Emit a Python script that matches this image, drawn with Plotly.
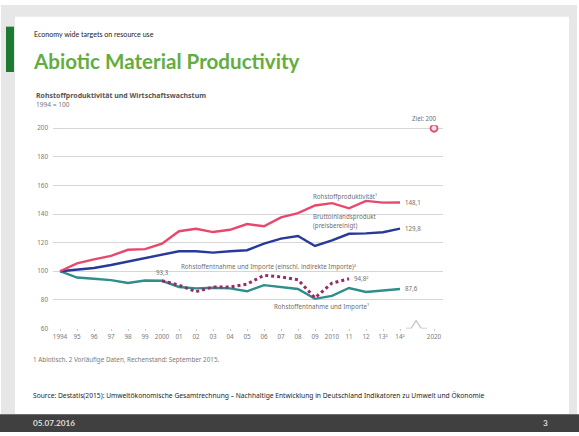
import plotly.graph_objects as go

W, H = 579, 436

# Year labels along the x axis (13 and 14 are provisional figures)
years = ["1994", "95", "96", "97", "98", "99", "2000", "01", "02", "03", "04",
         "05", "06", "07", "08", "09", "2010", "11", "12", "13²", "14²"]
target_label = "2020"

# Indices, 1994 = 100
rohstoffproduktivitaet = [100, 105.5, 108.3, 110.8, 115, 115.5, 119.3, 128, 129.7, 127.4, 129,
                          133, 131.5, 137.7, 140.7, 146, 147.6, 144, 149.2, 148, 148.1]
bip_preisbereinigt = [100, 101.4, 102.3, 104.4, 106.7, 109, 111.7, 114, 114, 113, 114,
                      114.7, 119.3, 122.8, 124.6, 117.7, 121.6, 126.2, 126.5, 127.3, 129.8]
entnahme_importe = [100, 95.6, 94.8, 93.8, 91.8, 93.5, 93.3, 89, 88, 88.5, 88,
                    86, 90.3, 89, 87.6, 80.7, 82.8, 88.3, 85.5, 86.5, 87.6]
# Including indirect imports, available from 2000 to 2011
indirekt_start = 6
entnahme_importe_indirekt = [93.3, 90.3, 85.7, 89, 89, 91, 97.2, 96, 94, 81.4, 91.7, 94.8]
ziel_2020 = 200

x = list(range(len(years)))
x_target = len(years) + 1          # 2020 sits after an axis break
x_ind = x[indirekt_start:indirekt_start + len(entnahme_importe_indirekt)]

RED = "#e8486c"
BLUE = "#28399a"
TEAL = "#2f8e8c"
MAROON = "#9a2a62"
GRID = "#d6d6d6"
LABEL = "#6f6f6f"

def fx(px):
    return px / W

def fy(py):
    return 1 - py / H

fig = go.Figure()

fig.add_trace(go.Scatter(x=x, y=entnahme_importe, mode="lines",
                         line=dict(color=TEAL, width=2.4), hoverinfo="skip"))
fig.add_trace(go.Scatter(x=x_ind, y=entnahme_importe_indirekt, mode="lines",
                         line=dict(color=MAROON, width=3, dash="dot"), hoverinfo="skip"))
fig.add_trace(go.Scatter(x=x, y=bip_preisbereinigt, mode="lines",
                         line=dict(color=BLUE, width=2.4), hoverinfo="skip"))
fig.add_trace(go.Scatter(x=x, y=rohstoffproduktivitaet, mode="lines",
                         line=dict(color=RED, width=2.4), hoverinfo="skip"))
fig.add_trace(go.Scatter(x=[x_target], y=[ziel_2020], mode="markers",
                         marker=dict(size=7, color="#fbe3e8", line=dict(color=RED, width=1.8)),
                         hoverinfo="skip"))

# Plot area: px 53..443 horizontally, 60 -> px 331, 200 -> px 128
px_per_year = 17.0
x0_px = 60.0
left_px, right_px = 53.0, 443.0
xr = [(left_px - x0_px) / px_per_year, (right_px - x0_px) / px_per_year]
px_per_unit = 1.45
top_px, bottom_px = 125.0, 331.0
yr = [60, 200 + (128 - top_px) / px_per_unit]

fig.update_layout(
    width=W, height=H,
    margin=dict(l=0, r=0, t=0, b=0),
    paper_bgcolor="white",
    plot_bgcolor="rgba(0,0,0,0)",
    showlegend=False,
    xaxis=dict(
        domain=[fx(left_px), fx(right_px)], range=xr,
        tickvals=x + [x_target], ticktext=years + [target_label],
        showgrid=False, zeroline=False, showline=False,
        ticks="outside", ticklen=2, tickcolor="#c8c8c8", tickwidth=1,
        tickfont=dict(family="Noto Sans", size=6.3, color="#7a7a7a"),
        fixedrange=True,
    ),
    yaxis=dict(
        domain=[fy(bottom_px), fy(top_px)], range=yr,
        tickvals=[60, 80, 100, 120, 140, 160, 180, 200],
        showgrid=True, gridcolor=GRID, gridwidth=1.4,
        zeroline=False, showline=False, ticks="",
        ticklabelstandoff=4,
        tickfont=dict(family="Noto Sans", size=6.3, color="#7a7a7a"),
        fixedrange=True,
    ),
)

shapes = [
    # slide frame
    dict(type="rect", xref="paper", yref="paper", x0=fx(1), x1=fx(577), y0=fy(418), y1=fy(3),
         fillcolor="#e7e7e7", line=dict(width=0), layer="below"),
    dict(type="rect", xref="paper", yref="paper", x0=fx(15), x1=fx(569), y0=fy(418), y1=fy(15),
         fillcolor="white", line=dict(width=0), layer="below"),
    # green accent bar
    dict(type="rect", xref="paper", yref="paper", x0=fx(6), x1=fx(14), y0=fy(71), y1=fy(25),
         fillcolor="#1c7a33", line=dict(width=0), layer="below"),
    # footer bar
    dict(type="rect", xref="paper", yref="paper", x0=0, x1=1, y0=0, y1=fy(418),
         fillcolor="#404040", line=dict(width=0), layer="below"),
    # axis break before 2020
    dict(type="rect", xref="x", yref="y", x0=20.6, x1=21.3, y0=59.2, y1=60.8,
         fillcolor="white", line=dict(width=0), layer="above"),
    dict(type="path", xref="x", yref="y",
         path="M 20.35,60 L 20.65,60 L 20.95,65.5 L 21.25,60 L 21.6,60",
         line=dict(color="#c4c4c4", width=1.2), layer="above"),
]

def txt(xp, yp, s, size, color=LABEL, family="Noto Sans", anchor="left", bold=False):
    if bold:
        s = "<b>" + s + "</b>"
    return dict(xref="paper", yref="paper", x=fx(xp), y=fy(yp), text=s, showarrow=False,
                xanchor=anchor, yanchor="middle",
                font=dict(family=family, size=size, color=color))

def dtxt(xv, yv, s, size=6.2, color=LABEL, anchor="left", dy=0):
    return dict(xref="x", yref="y", x=xv, y=yv, text=s, showarrow=False,
                xanchor=anchor, yanchor="middle", yshift=dy, xshift=3 if anchor == "left" else 0,
                font=dict(family="Noto Sans", size=size, color=color))

def fmt(v):
    return f"{v:.1f}".replace(".", ",")

annotations = [
    txt(32, 33, "Economy wide targets on resource use", 7.1, "#222222", "Lato"),
    txt(31, 60, "Abiotic Material Productivity", 20.6, "#63ad3e", "Lato", bold=True),
    txt(34, 95, "Rohstoffproduktivität und Wirtschaftswachstum", 7.0, "#555555", bold=True),
    txt(34, 104, "1994 = 100", 6.6, "#777777"),
    # series names
    txt(311, 197, "Rohstoffproduktivität¹", 6.2),
    txt(311, 217, "Bruttoinlandsprodukt", 6.2),
    txt(311, 227, "(preisbereinigt)", 6.2),
    txt(179, 268, "Rohstoffentnahme und Importe (einschl. indirekte Importe)²", 6.2),
    txt(272, 309, "Rohstoffentnahme und Importe¹", 6.2),
    # value labels
    dtxt(x[-1], rohstoffproduktivitaet[-1], fmt(rohstoffproduktivitaet[-1])),
    dtxt(x[-1], bip_preisbereinigt[-1], fmt(bip_preisbereinigt[-1])),
    dtxt(x[-1], entnahme_importe[-1], fmt(entnahme_importe[-1])),
    dtxt(x_ind[-1], entnahme_importe_indirekt[-1], fmt(entnahme_importe_indirekt[-1]) + "²"),
    dtxt(x_ind[0], entnahme_importe_indirekt[0], fmt(entnahme_importe_indirekt[0]),
         anchor="center", dy=8),
    dtxt(x_target + 0.3, ziel_2020, f"Ziel: {ziel_2020}", anchor="right", dy=10),
    # footnotes
    txt(31, 362, "1 Abiotisch. 2 Vorläufige Daten, Rechenstand: September 2015.", 6.3, "#7a7a7a"),
    txt(31, 399, "Source: Destatis(2015): Umweltökonomische Gesamtrechnung – Nachhaltige Entwicklung in "
                 "Deutschland Indikatoren zu Umwelt und Ökonomie", 6.7, "#1e1e1e"),
    txt(31, 427, "05.07.2016", 8.2, "#dcdcdc", "Lato", bold=True),
    txt(545, 427, "3", 8.2, "#dcdcdc", "Lato", anchor="center", bold=True),
]

fig.update_layout(shapes=shapes, annotations=annotations)
fig.write_html("out.html")
